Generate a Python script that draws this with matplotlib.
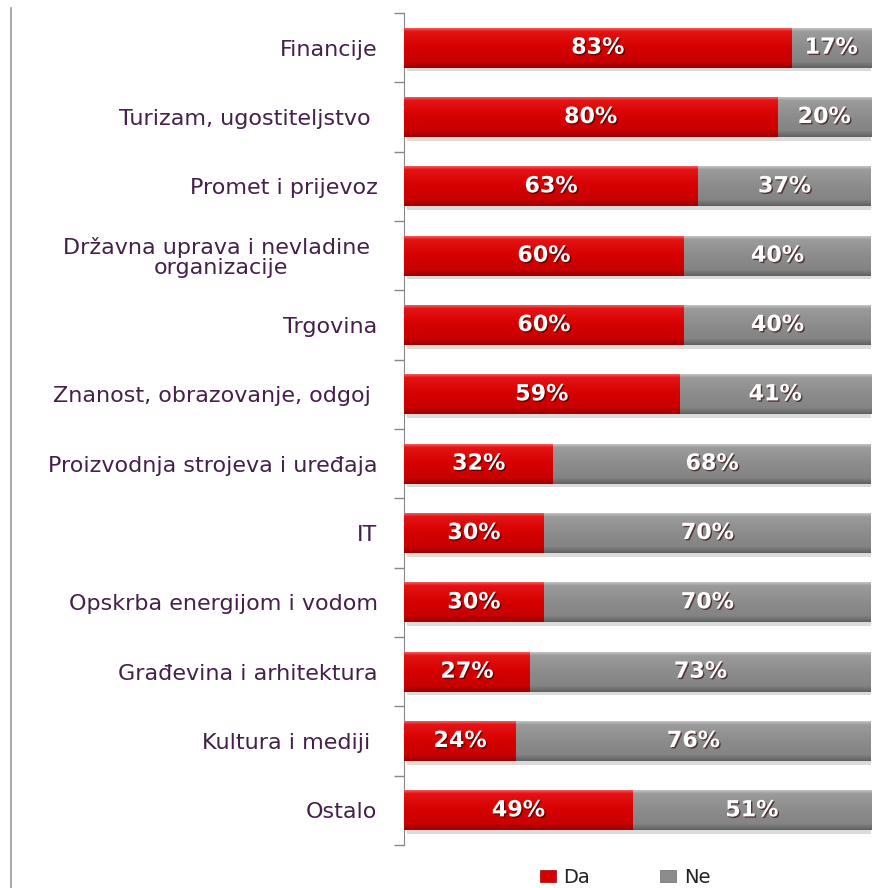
import numpy as np
import matplotlib
matplotlib.use("Agg")
import matplotlib.pyplot as plt
import matplotlib.patheffects as pe
from matplotlib.colors import LinearSegmentedColormap
from matplotlib.patches import Patch
from matplotlib.lines import Line2D

categories = [
    "Financije",
    "Turizam, ugostiteljstvo ",
    "Promet i prijevoz",
    "Državna uprava i nevladine \norganizacije",
    "Trgovina",
    "Znanost, obrazovanje, odgoj ",
    "Proizvodnja strojeva i uređaja",
    "IT",
    "Opskrba energijom i vodom",
    "Građevina i arhitektura",
    "Kultura i mediji ",
    "Ostalo",
]
da = [83, 80, 63, 60, 60, 59, 32, 30, 30, 27, 24, 49]
ne = [17, 20, 37, 40, 40, 41, 68, 70, 70, 73, 76, 51]
series_names = ["Da", "Ne"]

W, H = 879, 888
fig = plt.figure(figsize=(W / 100, H / 100), dpi=100)
fig.patch.set_facecolor("white")
ax = fig.add_axes([404 / W, 1 - 845 / H, 467 / W, 832 / H])

red_cmap = LinearSegmentedColormap.from_list(
    "red", [(0, "#ff6b6b"), (0.1, "#e41414"), (0.5, "#d60000"), (0.85, "#c80000"), (1.0, "#960000")])
gray_cmap = LinearSegmentedColormap.from_list(
    "gray", [(0, "#cfcfcf"), (0.1, "#9c9c9c"), (0.5, "#8c8c8c"), (0.85, "#848484"), (1.0, "#616161")])
grad = np.linspace(0, 1, 64).reshape(-1, 1)

y = np.arange(len(categories))
bh = 0.58
shadow = [pe.SimplePatchShadow(offset=(2, -2.5), shadow_rgbFace="#888888", alpha=0.3), pe.Normal()]
b1 = ax.barh(y, da, height=bh, color="#d60000", zorder=2, path_effects=shadow)
b2 = ax.barh(y, ne, left=da, height=bh, color="#8c8c8c", zorder=2, path_effects=shadow)

for bars, cmap in ((b1, red_cmap), (b2, gray_cmap)):
    for p in bars:
        x0, y0, w, h = p.get_x(), p.get_y(), p.get_width(), p.get_height()
        im = ax.imshow(grad, cmap=cmap, extent=(x0, x0 + w, y0 + h, y0),
                       aspect="auto", zorder=3, interpolation="bilinear")
        im.set_clip_path(p)

txt_fx = [pe.SimplePatchShadow(offset=(1, -1), shadow_rgbFace="#300000", alpha=0.6), pe.Normal()]
for bars, vals in ((b1, da), (b2, ne)):
    labs = ax.bar_label(bars, labels=[f"{v}%" for v in vals], label_type="center",
                        color="white", fontsize=16, fontweight="bold", zorder=5)
    for t in labs:
        t.set_path_effects(txt_fx)
        t.set_zorder(5)

ax.set_xlim(0, 100)
ax.set_ylim(len(categories) - 0.5, -0.5)
ax.set_yticks(y)
ax.set_yticklabels(categories, fontsize=16, color="#44204a")
for lbl in ax.get_yticklabels():
    lbl.set_multialignment("center")
    lbl.set_linespacing(1.0)
ax.set_yticks(np.arange(-0.5, len(categories), 1.0), minor=True)
ax.tick_params(axis="y", which="major", length=0, pad=19)
ax.tick_params(axis="y", which="minor", length=7, color="#888888", width=1, direction="out")
ax.set_xticks([])
for s in ("top", "right", "bottom"):
    ax.spines[s].set_visible(False)
ax.spines["left"].set_color("#888888")
ax.set_facecolor("white")

fig.add_artist(Line2D([11 / W, 11 / W], [0, 1 - 8 / H], color="#9a9a9a", lw=1.2))

handles = [Patch(facecolor="#d60000", edgecolor="#a00000", lw=0.5),
           Patch(facecolor="#8c8c8c", edgecolor="#6a6a6a", lw=0.5)]
fig.legend(handles, series_names, loc="center", bbox_to_anchor=(625 / W, 1 - 877 / H),
           ncol=2, frameon=False, fontsize=14, handlelength=0.82, handleheight=0.57,
           handletextpad=0.4, columnspacing=3.6, labelcolor="#222222")

fig.savefig("out.png", dpi=100, facecolor="white")
